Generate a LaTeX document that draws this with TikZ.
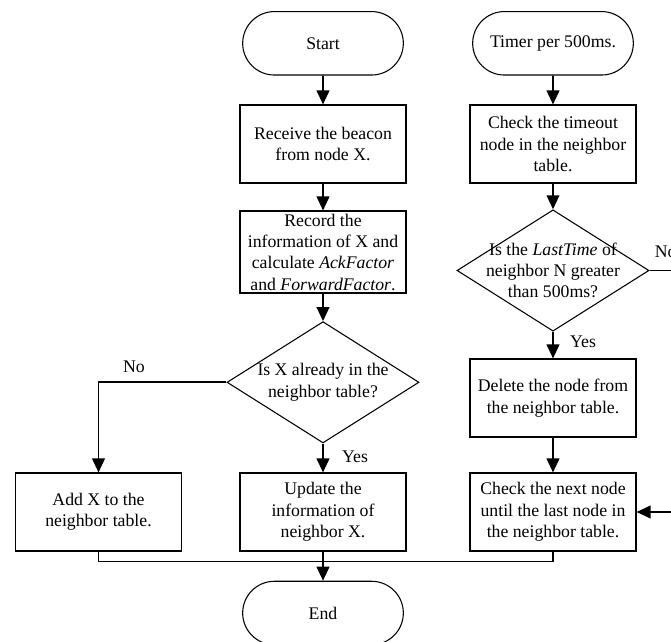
\documentclass[tikz,border=0pt]{standalone}
\usepackage{fontspec}
\setmainfont{Liberation Serif}
\usetikzlibrary{shapes.geometric,shapes.misc,arrows.meta}
\newcommand\flowfont{\fontsize{13.3}{16}\selectfont}

\begin{document}
\begin{tikzpicture}[x=0.75pt,y=-0.75pt,
  box/.style={draw, line width=0.8pt, minimum width=124.5pt, minimum height=58.5pt,
              inner sep=2pt, align=center, font=\flowfont},
  term/.style={draw, rounded rectangle, line width=0.8pt, minimum width=124.5pt,
               minimum height=47.6pt, inner sep=2pt, font=\flowfont},
  decision/.style={draw, diamond, line width=0.8pt, minimum width=144pt,
                   minimum height=91pt, inner sep=0pt},
  dtext/.style={align=center, font=\flowfont, inner sep=0pt},
  flow/.style={line width=1.4pt, -{Triangle[length=10.5pt,width=9.5pt]}},
  link/.style={line width=1.4pt},
  tag/.style={font=\flowfont, inner sep=0pt}]

  \clip (0,0) rectangle (671,642);

  % left column: beacon handling
  \node[term] (start) at (323,43.3) {Start};
  \node[box] (recv) at (323,144) {Receive the beacon\\from node X.};
  \node[box, minimum height=61.5pt] (rec) at (323,252)
    {Record the\\information of X and\\calculate \textit{AckFactor}\\and \textit{ForwardFactor}.};
  \node[decision] (d1) at (323,382.3) {};
  \node[dtext] (d1t) at (d1.center) {Is X already in the\\neighbor table?};
  \node[box] (add) at (98.5,512) {Add X to the\\neighbor table.};
  \node[box] (upd) at (323,512) {Update the\\information of\\neighbor X.};
  \node[term] (end) at (323,613) {End};

  % right column: periodic timeout check
  \node[term] (timer) at (553,43.3) {Timer per 500ms.};
  \node[box] (chk) at (553,144) {Check the timeout\\node in the neighbor\\table.};
  \node[decision] (d2) at (553,270.5) {};
  \node[dtext] (d2t) at (d2.center)
    {Is the \textit{LastTime} of\\neighbor N greater\\than 500ms?};
  \node[box] (del) at (553,398) {Delete the node from\\the neighbor table.};
  \node[box] (nxt) at (553,512) {Check the next node\\until the last node in\\the neighbor table.};

  % branch labels
  \node[tag] (no1) at (134,367) {No};
  \node[tag] (yes1) at (355,457) {Yes};
  \node[tag, anchor=west] (no2) at (654.5,252) {No};
  \node[tag] (yes2) at (583,342) {Yes};

  % junction and border points
  \coordinate (jm) at (323,561.5);
  \coordinate (rimA) at (671,270.5);
  \coordinate (rimB) at (671,512);

  % connectors, left column
  \draw[flow] (start) -- (recv);
  \draw[flow] (recv) -- (rec);
  \draw[flow] (rec) -- (d1);
  \draw[flow] (d1) -- (upd);
  \draw[flow] (d1.west) -| (add);
  \draw[link] (add.south) |- (jm) -| (nxt.south);
  \draw[link] (upd) -- (jm);
  \draw[flow] (jm) -- (end);

  % connectors, right column
  \draw[flow] (timer) -- (chk);
  \draw[flow] (chk) -- (d2);
  \draw[flow] (d2) -- (del);
  \draw[flow] (del) -- (nxt);
  \draw[link] (d2.east) -- (rimA);
  \draw[flow] (rimB) -- (nxt.east);
\end{tikzpicture}
\end{document}
